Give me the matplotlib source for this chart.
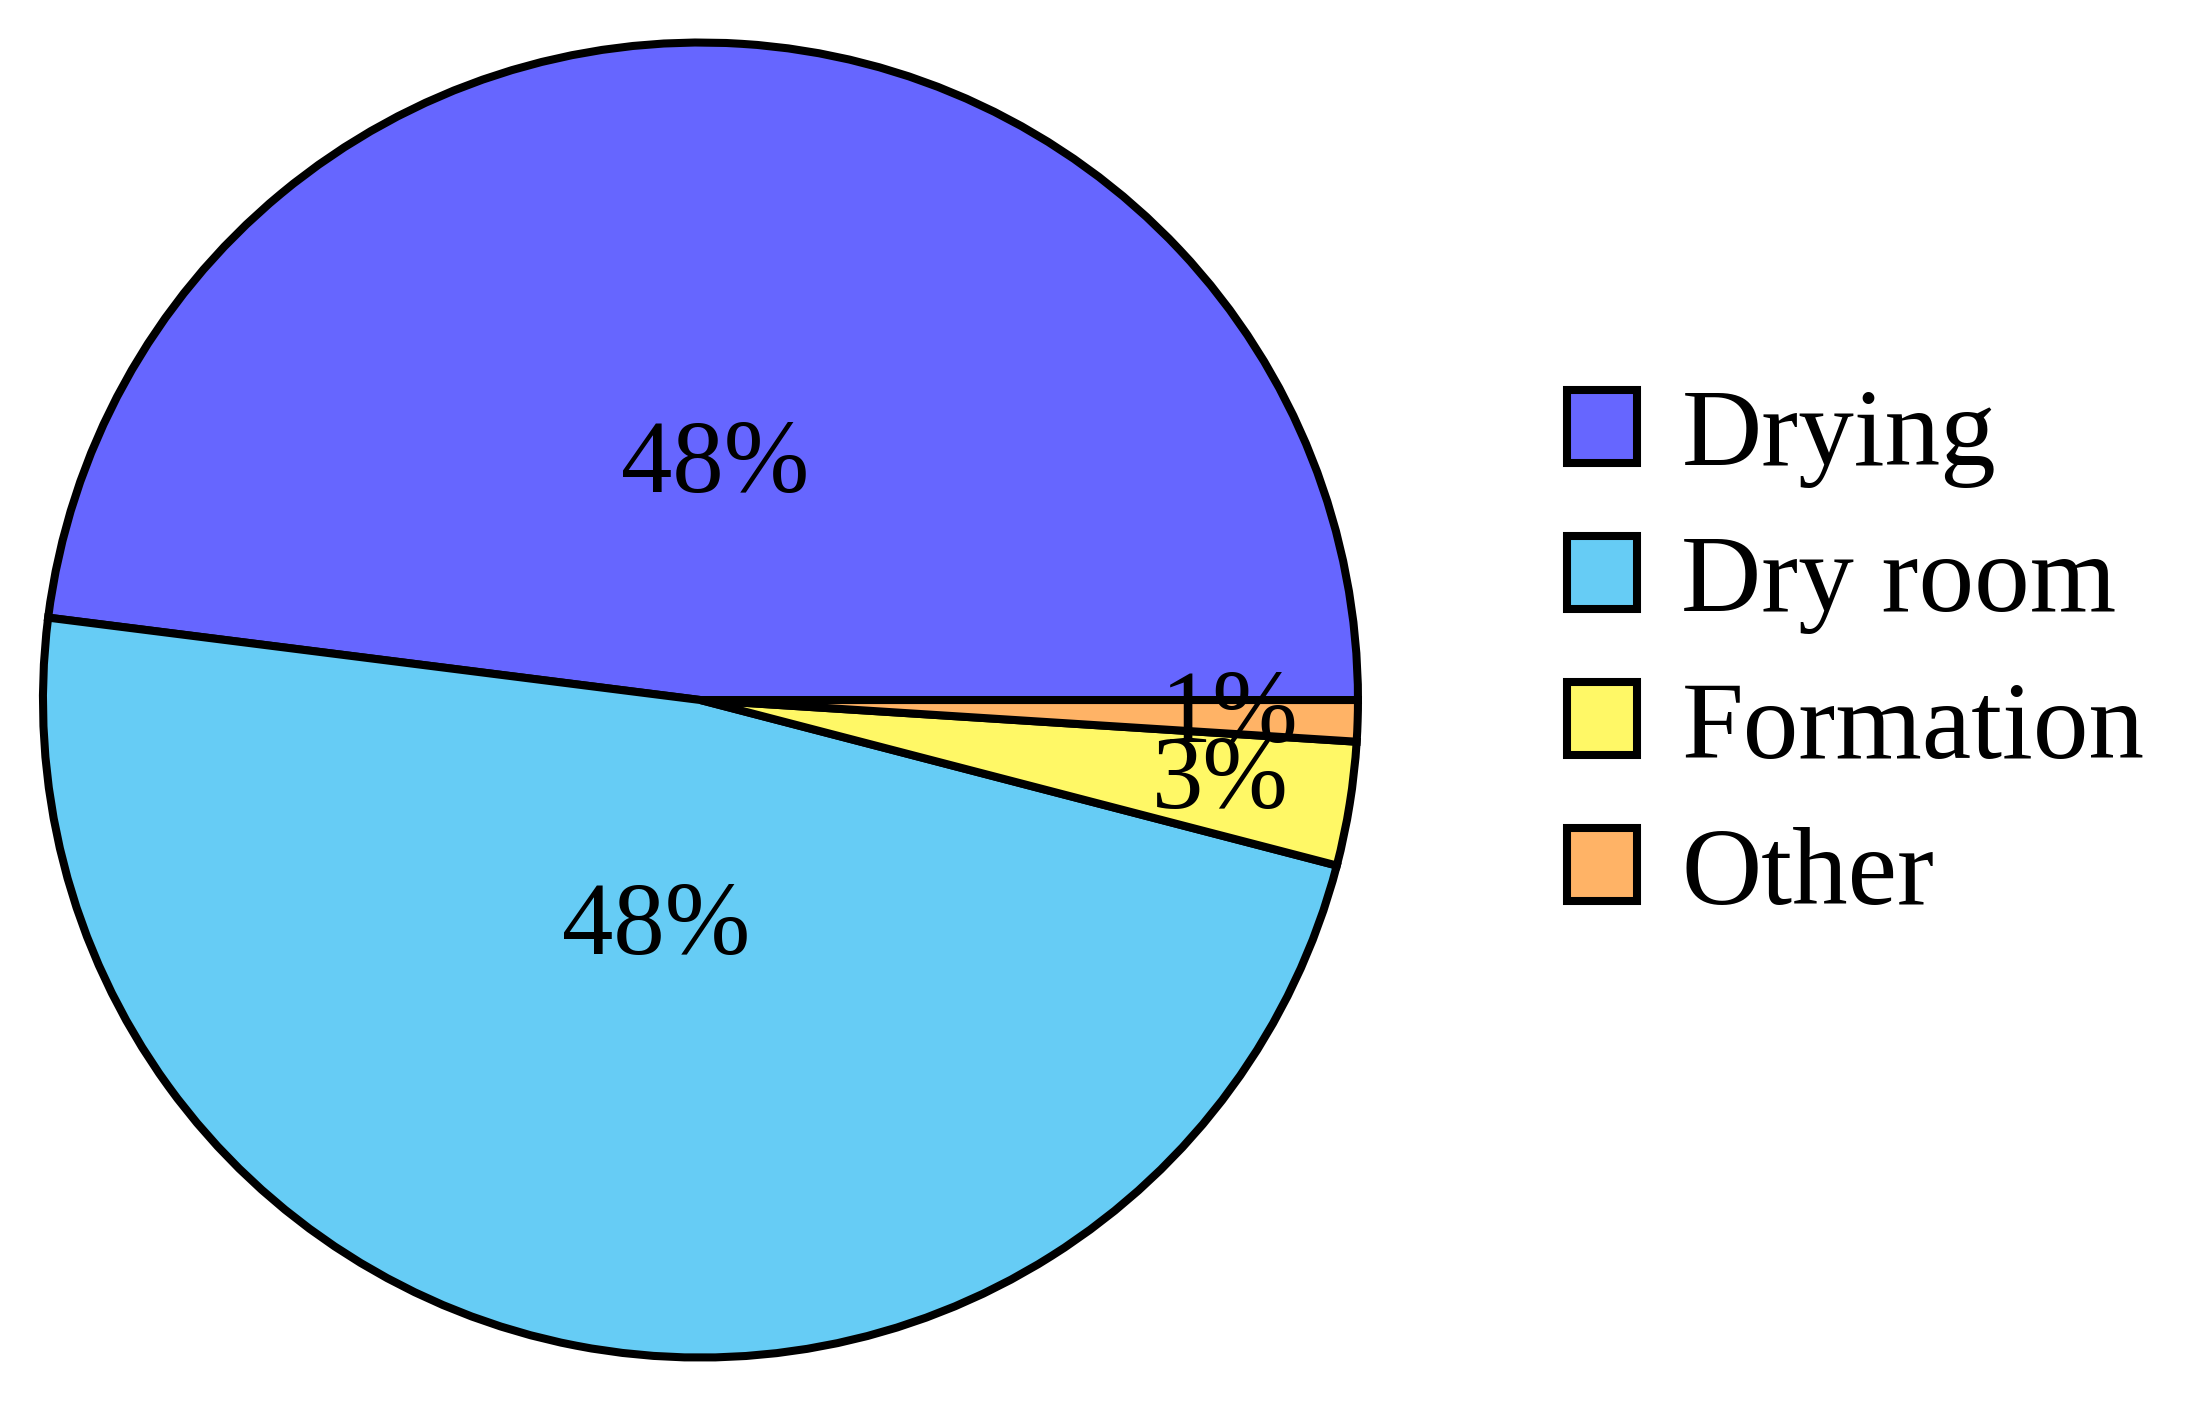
import numpy as np
import matplotlib
matplotlib.use("Agg")
import matplotlib.pyplot as plt

# slice data (percent of energy)
labels = ["Drying", "Dry room", "Formation", "Other"]
shares = [48.0, 47.95, 3.04, 1.01]
colors = ["#6666FF", "#66CCF5", "#FFF866", "#FFB366"]
pct_dist = [0.355, 0.355, 0.80, 0.805]

plt.rcParams["font.family"] = ["Liberation Serif", "DejaVu Serif"]

fig = plt.figure(figsize=(21.9, 14.04), dpi=100)
ax = fig.add_axes([0.0196, 0.0331, 0.6005, 0.9366])

wedges, texts, autotexts = ax.pie(
    shares, colors=colors, startangle=0, counterclock=True,
    autopct="%1.0f%%", radius=1.0,
    wedgeprops=dict(edgecolor="black", linewidth=5.8),
    textprops=dict(fontsize=74, color="black"),
)

# move percentage labels to per-slice distances
for w, t, d in zip(wedges, autotexts, pct_dist):
    ang = np.deg2rad((w.theta1 + w.theta2) / 2)
    t.set_position((d * np.cos(ang), d * np.sin(ang)))
    t.set_ha("center")
    t.set_va("center")

ax.set_xlim(-1.0, 1.0)
ax.set_ylim(-1.0, 1.0)
ax.set_aspect("equal")
ax.axis("off")

leg = fig.legend(
    wedges, labels, loc="center left", bbox_to_anchor=(0.7155, 0.5315),
    frameon=False, fontsize=80, borderpad=0, borderaxespad=0,
    handlelength=0.63, handleheight=0.63, handletextpad=0.40, labelspacing=0.42,
)
for h in leg.legend_handles:
    h.set_linewidth(5.8)

fig.savefig("out.png", dpi=100)
